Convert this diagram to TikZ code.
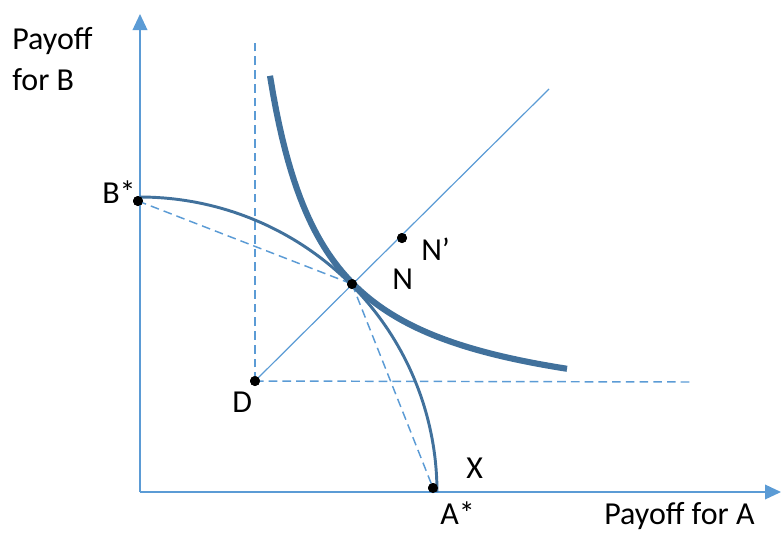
\documentclass[tikz,border=0pt]{standalone}
\usepackage{fontspec}
\setmainfont{Carlito}
\usetikzlibrary{arrows.meta}
\definecolor{lightblue}{HTML}{5B9BD5}
\definecolor{darkblue}{HTML}{41719C}
\tikzset{
  axisline/.style={draw=lightblue, line width=1.1pt, -{Triangle[width=11pt,length=12pt]}},
  thinline/.style={draw=lightblue, line width=0.9pt},
  dashline/.style={draw=lightblue, line width=1.1pt, dash pattern=on 6.5pt off 3.8pt},
  frontier/.style={draw=darkblue, line width=2.2pt},
  bargain/.style={draw=darkblue, line width=4.6pt},
  dot/.style={circle, fill=black, inner sep=0pt, minimum size=7.5pt},
  lbl/.style={anchor=base west, inner sep=0pt, font=\fontsize{24}{28}\selectfont},
}
\begin{document}
\begin{tikzpicture}[x=0.75pt, y=-0.75pt]
\useasboundingbox (0,0) rectangle (781,533);
% named points
\coordinate (O) at (140,492);
\coordinate (ytip) at (140,14);
\coordinate (xtip) at (781,492);
\coordinate (vtop) at (255,42);
\coordinate (hend) at (690,382);
\coordinate (lend) at (549,89);
\node[dot] (Bs) at (138,201) {};
\node[dot] (N) at (352,284) {};
\node[dot] (Np) at (402,238) {};
\node[dot] (D) at (255,381) {};
\node[dot] (As) at (433,488) {};
% axes
\draw[axisline] (O) -- (ytip);
\draw[axisline] (O) -- (xtip);
% dashed lines
\draw[dashline] (D.center) -- (vtop);
\draw[dashline] (D.center) -- (hend);
\draw[dashline] (Bs.center) -- (N.center);
\draw[dashline] (N.center) -- (As.center);
% line from D
\draw[thinline] (D.center) -- (lend);
% frontier
\draw[frontier] plot[domain=90:0, samples=80] ({140+297*cos(\x)}, {492-295*sin(\x)});
% Nash product curve
\draw[bargain] plot[domain=56:353, samples=100] ({214+\x}, {424-195*(100/\x)});
% dots on top
\node[dot] at (Bs) {};
\node[dot] at (N) {};
\node[dot] at (Np) {};
\node[dot] at (D) {};
\node[dot] at (As) {};
% labels
\node[lbl] (l1) at (12,49) {Payoff};
\node[lbl] (l2) at (12,90) {for B};
\node[lbl] (lB) at (102,203) {B*};
\node[lbl] (lNp) at (421,260) {N’};
\node[lbl] (lN) at (392,289) {N};
\node[lbl] (lD) at (232,412) {D};
\node[lbl] (lX) at (466,478) {X};
\node[lbl] (lA) at (440,524) {A*};
\node[lbl] (lPA) at (604,524) {Payoff for A};
\end{tikzpicture}
\end{document}
